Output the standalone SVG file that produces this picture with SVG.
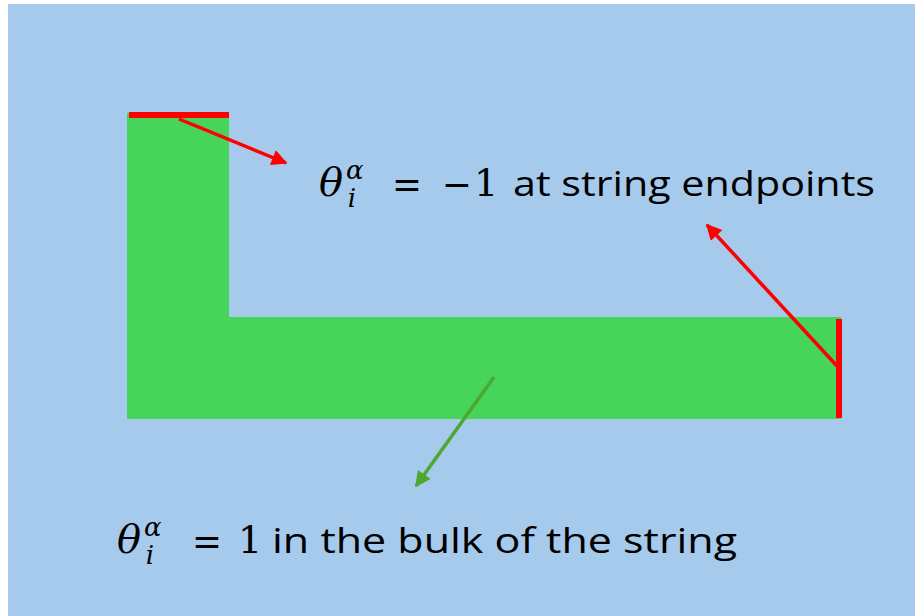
<svg xmlns="http://www.w3.org/2000/svg" width="915" height="616" viewBox="0 0 915 616">
  <defs>
    <style>
      .math { font-family: "DejaVu Serif", "Liberation Serif", serif; fill: #000; }
      .it { font-style: italic; }
      .lbl { font-family: "Open Sans", "Liberation Sans", sans-serif; fill: #000; }
    </style>
    <marker id="arRed" viewBox="0 0 10 10" refX="9" refY="5" markerWidth="5" markerHeight="4.5" orient="auto" markerUnits="strokeWidth">
      <path d="M0,0 L10,5 L0,10 z" fill="#FF0000"/>
    </marker>
    <marker id="arGreen" viewBox="0 0 10 10" refX="9" refY="5" markerWidth="5" markerHeight="4.5" orient="auto" markerUnits="strokeWidth">
      <path d="M0,0 L10,5 L0,10 z" fill="#4EA72E"/>
    </marker>
  </defs>
  <rect x="0" y="0" width="915" height="616" fill="#FFFFFF"/>
  <rect x="8" y="4" width="907" height="612" fill="#A6CAEC"/>

  <g id="string">
    <path d="M127,113 H229 V317 H841 V419 H127 Z" fill="#47D45A"/>
  </g>
  <g id="endpoint-top">
    <rect x="129" y="112" width="100" height="6" fill="#FF0000"/>
  </g>
  <g id="endpoint-right">
    <rect x="836" y="319" width="6" height="99" fill="#FF0000"/>
  </g>

  <g id="label-endpoints">
    <text class="math it" x="319" y="196" font-size="40">θ<tspan font-size="26" dx="3" dy="-17">α</tspan><tspan font-size="26" dx="-16" dy="28">i</tspan></text>
    <text class="math" x="392" y="198" font-size="40" textLength="30" lengthAdjust="spacingAndGlyphs">=</text>
    <text class="math" x="442" y="198" font-size="40" textLength="30" lengthAdjust="spacingAndGlyphs">−</text>
    <text class="math" x="474" y="196" font-size="38">1</text>
    <text class="lbl" x="513" y="196" font-size="34" textLength="362" lengthAdjust="spacingAndGlyphs">at string endpoints</text>
  </g>

  <g id="label-bulk">
    <text class="math it" x="117" y="553" font-size="40">θ<tspan font-size="26" dx="3" dy="-17">α</tspan><tspan font-size="26" dx="-16" dy="28">i</tspan></text>
    <text class="math" x="192" y="555" font-size="40" textLength="30" lengthAdjust="spacingAndGlyphs">=</text>
    <text class="math" x="238" y="553" font-size="38">1</text>
    <text class="lbl" x="272" y="553" font-size="34" textLength="465" lengthAdjust="spacingAndGlyphs">in the bulk of the string</text>
  </g>

  <g id="connectors">
    <line x1="179" y1="119" x2="286" y2="163" stroke="#FF0000" stroke-width="3.5" marker-end="url(#arRed)"/>
    <line x1="837" y1="366" x2="707" y2="225" stroke="#FF0000" stroke-width="3.5" marker-end="url(#arRed)"/>
    <line x1="494" y1="377" x2="416" y2="486" stroke="#4EA72E" stroke-width="3.5" marker-end="url(#arGreen)"/>
  </g>
</svg>
